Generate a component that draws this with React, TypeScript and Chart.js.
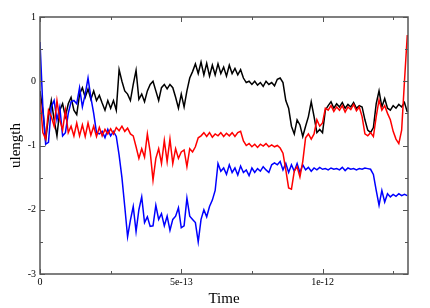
import React, { useEffect, useRef } from "react";
import { Chart, registerables } from "chart.js";

Chart.register(...registerables);

// Time sampling grid (units of 1e-12 s)
const TIME_STEP_PS = 0.01;
const X_MAX_PS = 1.3025;

const X_TICK_VALUES = [0, 0.5, 1.0];
const X_TICK_LABELS = ["0", "5e-13", "1e-12"];
const X_MINOR_VALUES = [0.25, 0.75, 1.25];
const Y_TICK_VALUES = [-3, -2, -1, 0, 1];
const Y_TICK_LABELS = ["-3", "-2", "-1", "0", "1"];
const Y_MINOR_VALUES = [-2.5, -1.5, -0.5, 0.5];

const BLACK_VALUES = [
  -0.15, -0.45, -0.92, -0.55, -0.3, -0.6, -0.85, -0.45, -0.35, -0.55,
  -0.35, -0.25, -0.45, -0.52, -0.2, -0.1, -0.25, -0.12, -0.28, -0.15,
  -0.3, -0.22, -0.34, -0.45, -0.3, -0.42, -0.3, -0.45, 0.18, 0.0,
  -0.15, -0.2, -0.3, -0.05, 0.17, -0.28, -0.2, -0.32, -0.15, -0.05,
  0.0, -0.15, -0.3, -0.1, -0.05, -0.12, -0.05, -0.1, -0.25, -0.42,
  -0.2, -0.4, -0.15, 0.05, 0.15, 0.27, 0.12, 0.3, 0.1, 0.28,
  0.08, 0.25, 0.1, 0.27, 0.12, 0.22, 0.08, 0.25, 0.12, 0.2,
  0.1, 0.18, 0.05, -0.02, 0.0, -0.05, 0.0, -0.06, -0.02, -0.08,
  0.0, -0.05, -0.02, -0.07, 0.03, 0.05, -0.02, -0.3, -0.42, -0.7,
  -0.82, -0.6, -0.68, -0.86, -0.7, -0.55, -0.32, -0.55, -0.8, -0.75,
  -0.8, -0.45, -0.38, -0.32, -0.42, -0.35, -0.4, -0.33, -0.42, -0.36,
  -0.4, -0.33, -0.42, -0.38, -0.4, -0.6, -0.76, -0.8, -0.72, -0.35,
  -0.15, -0.4, -0.27, -0.42, -0.45, -0.38, -0.42, -0.36, -0.4, -0.33,
  -0.48,
];

const RED_VALUES = [
  -0.24, -0.8, -0.9, -0.45, -0.55, -0.7, -0.3, -0.6, -0.76, -0.45,
  -0.8, -0.7, -0.85, -0.65, -0.85, -0.68, -0.86, -0.65, -0.84, -0.7,
  -0.86, -0.72, -0.85, -0.75, -0.82, -0.74, -0.82, -0.72, -0.77, -0.7,
  -0.78, -0.73, -0.82, -0.85, -1.02, -1.2, -1.05, -1.18, -0.82, -1.1,
  -1.54, -1.2, -1.05, -1.28, -0.92, -1.25, -0.9, -1.28, -1.05, -1.2,
  -1.1, -1.07, -1.33, -1.05, -1.1, -1.02, -0.88, -0.85, -0.8, -0.86,
  -0.8, -0.87, -0.82, -0.85, -0.8, -0.86, -0.81, -0.85, -0.8, -0.86,
  -0.8, -0.78, -0.93, -1.0, -0.97, -1.02, -0.98, -1.03, -0.98, -1.01,
  -0.97, -1.02, -0.99, -1.02, -1.0, -1.04, -1.12, -1.38, -1.66, -1.68,
  -1.4, -1.33, -1.49, -1.25, -0.88, -0.82, -0.9, -0.82, -0.6, -0.7,
  -0.65, -0.42, -0.45, -0.38, -0.47, -0.4, -0.45, -0.38, -0.48, -0.4,
  -0.44, -0.36, -0.46, -0.4, -0.55, -0.82, -0.85, -0.8, -0.86, -0.55,
  -0.29, -0.45, -0.38, -0.5, -0.6, -0.78, -0.9, -0.97, -0.76, 0.0,
  0.72,
];

const BLUE_VALUES = [
  0.61, -0.4, -0.98, -0.95, -0.4, -0.3, -0.6, -0.4, -0.85, -0.8,
  -0.5, -0.32, -0.3, -0.35, -0.1, -0.4, -0.2, 0.05, -0.25, -0.5,
  -0.8, -0.82, -0.78, -0.88, -0.75, -0.85, -0.78, -0.86, -1.15, -1.5,
  -1.95, -2.42, -2.16, -1.95, -2.34, -2.0, -1.8, -2.2, -2.11, -2.26,
  -2.25, -1.93, -2.15, -2.06, -2.25, -2.1, -2.32, -2.15, -2.1, -1.97,
  -2.28, -2.25, -1.82, -2.1, -2.15, -2.2, -2.5, -2.15, -2.0, -2.11,
  -1.95, -1.85, -1.7, -1.28, -1.4, -1.35, -1.45, -1.3, -1.42, -1.35,
  -1.46, -1.32, -1.42, -1.38, -1.47, -1.35, -1.42, -1.36, -1.4, -1.33,
  -1.38, -1.42, -1.3, -1.27, -1.3, -1.25, -1.38, -1.28, -1.42, -1.3,
  -1.4, -1.28, -1.42, -1.3, -1.38, -1.34, -1.4, -1.35, -1.38, -1.34,
  -1.37, -1.36, -1.38, -1.35, -1.37, -1.36, -1.38, -1.34, -1.39, -1.35,
  -1.37, -1.36, -1.38, -1.36, -1.37, -1.35, -1.36, -1.37, -1.45, -1.7,
  -1.93, -1.7, -1.88, -1.75, -1.8, -1.76, -1.79, -1.75, -1.78, -1.76,
  -1.78,
];

const FONT = "'Liberation Serif', 'Times New Roman', serif";

function toPoints(values: number[]) {
  return values.map((v, i) => ({ x: +(i * TIME_STEP_PS).toFixed(4), y: v }));
}

const framePlugin = {
  id: "frameTicks",
  afterDatasetsDraw(chart: any) {
    const { ctx, chartArea } = chart;
    const xs = chart.scales.x;
    const ys = chart.scales.y;
    const { left, right, top, bottom } = chartArea;
    ctx.save();
    ctx.strokeStyle = "#555";
    ctx.lineWidth = 1.5;
    ctx.strokeRect(left, top, right - left, bottom - top);
    ctx.lineWidth = 1;
    ctx.beginPath();
    const xt = (v: number, len: number) => {
      const p = Math.round(xs.getPixelForValue(v)) + 0.5;
      ctx.moveTo(p, bottom);
      ctx.lineTo(p, bottom - len);
      ctx.moveTo(p, top);
      ctx.lineTo(p, top + len);
    };
    const yt = (v: number, len: number) => {
      const p = Math.round(ys.getPixelForValue(v)) + 0.5;
      ctx.moveTo(left, p);
      ctx.lineTo(left + len, p);
      ctx.moveTo(right, p);
      ctx.lineTo(right - len, p);
    };
    X_TICK_VALUES.forEach((v) => xt(v, 5));
    X_MINOR_VALUES.forEach((v) => xt(v, 3));
    Y_TICK_VALUES.forEach((v) => yt(v, 5));
    Y_MINOR_VALUES.forEach((v) => yt(v, 3));
    ctx.stroke();
    ctx.restore();
  },
};

export default function App() {
  const ref = useRef<HTMLCanvasElement | null>(null);
  useEffect(() => {
    if (!ref.current) return;
    const chart = new Chart(ref.current, {
      type: "line",
      data: {
        datasets: [
          {
            label: "red",
            data: toPoints(RED_VALUES),
            borderColor: "#ff0000",
            borderWidth: 1.5,
            pointRadius: 0,
            tension: 0,
          },
          {
            label: "blue",
            data: toPoints(BLUE_VALUES),
            borderColor: "#0000ff",
            borderWidth: 1.5,
            pointRadius: 0,
            tension: 0,
          },
          {
            label: "black",
            data: toPoints(BLACK_VALUES),
            borderColor: "#000000",
            borderWidth: 1.5,
            pointRadius: 0,
            tension: 0,
          },
        ],
      },
      options: {
        animation: false,
        responsive: false,
        maintainAspectRatio: false,
        layout: { padding: { top: 17, right: 22, left: 0, bottom: 0 } },
        plugins: {
          legend: { display: false },
          tooltip: { enabled: false },
          title: { display: false },
        },
        scales: {
          x: {
            type: "linear",
            min: 0,
            max: X_MAX_PS,
            grid: { display: false, drawTicks: false },
            border: { display: false },
            afterBuildTicks: (s: any) => {
              s.ticks = X_TICK_VALUES.map((v) => ({ value: v }));
            },
            afterFit: (s: any) => {
              s.height = 34;
            },
            ticks: {
              padding: 2,
              maxRotation: 0,
              autoSkip: false,
              color: "#000",
              font: { family: FONT, size: 10 },
              callback: (v: any) => {
                const i = X_TICK_VALUES.indexOf(Number(v));
                return i >= 0 ? X_TICK_LABELS[i] : "";
              },
            },
            title: {
              display: true,
              text: "Time",
              color: "#000",
              font: { family: FONT, size: 15 },
              padding: { top: 5, bottom: 0 },
            },
          },
          y: {
            type: "linear",
            min: -3,
            max: 1,
            grid: { display: false, drawTicks: false },
            border: { display: false },
            afterBuildTicks: (s: any) => {
              s.ticks = Y_TICK_VALUES.map((v) => ({ value: v }));
            },
            afterFit: (s: any) => {
              s.width = 40;
            },
            ticks: {
              padding: 4,
              autoSkip: false,
              color: "#000",
              font: { family: FONT, size: 10 },
              callback: (v: any) => {
                const i = Y_TICK_VALUES.indexOf(Number(v));
                return i >= 0 ? Y_TICK_LABELS[i] : "";
              },
            },
            title: {
              display: true,
              text: "ulength",
              color: "#000",
              font: { family: FONT, size: 15 },
              padding: { top: 7, bottom: 0 },
            },
          },
        },
      },
      plugins: [framePlugin],
    });
    return () => chart.destroy();
  }, []);
  return (
    <div style={{ position: "absolute", left: 0, top: 0, width: 430, height: 308, background: "#fff" }}>
      <canvas ref={ref} width={430} height={308} style={{ display: "block" }} />
    </div>
  );
}
